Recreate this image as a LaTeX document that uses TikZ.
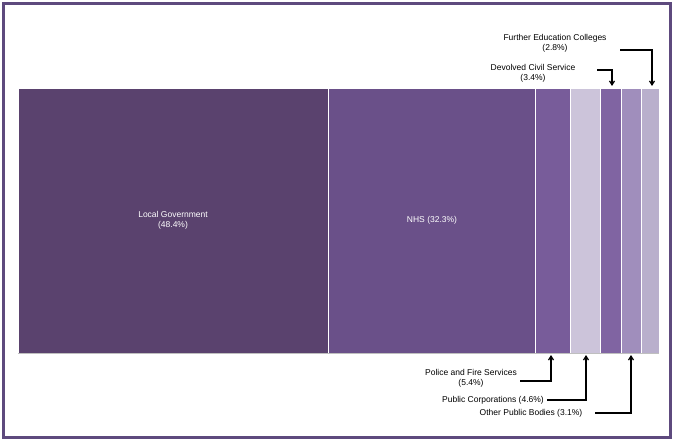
\documentclass[tikz,border=0pt]{standalone}
\usepackage{fontspec}
\setmainfont{Liberation Sans}
\usetikzlibrary{arrows.meta,positioning}
\definecolor{frame}{HTML}{5E4A7E}
\definecolor{cLG}{HTML}{5A426E}
\definecolor{cNHS}{HTML}{6A5089}
\definecolor{cPF}{HTML}{785C9A}
\definecolor{cPC}{HTML}{CCC4DA}
\definecolor{cDC}{HTML}{8064A2}
\definecolor{cOP}{HTML}{A08EBC}
\definecolor{cFE}{HTML}{B9AFCC}
\tikzset{
  seg/.style={draw=white, line width=0.6pt},
  lab/.style={font=\fontsize{8.5}{10}\selectfont, align=center, inner sep=1pt},
  call/.style={line width=1.2pt, -{Straight Barb[length=4pt,width=5pt]}}
}
\begin{document}
\begin{tikzpicture}[x=1pt, y=-1pt]
  \useasboundingbox (0,0) rectangle (675,441);
  \draw[frame, line width=3pt] (3.5,3.5) rectangle (670,437);
  % bar segments
  \foreach \a/\b/\c in {18/328/cLG,328/535/cNHS,535/570/cPF,570/600/cPC,600/621/cDC,621/641/cOP,641/659/cFE}{
    \fill[\c, seg] (\a,88) rectangle (\b,353);
  }
  \draw[gray!50, line width=1pt] (18,353.5) -- (659,353.5);
  \node[lab, text=white] (lg) at (173,220) {Local Government\\(48.4\%)};
  \node[lab, text=white] (nhs) at (432,220) {NHS (32.3\%)};
  % bottom labels
  \node[lab] (pf) at (471,378) {Police and Fire Services\\(5.4\%)};
  \node[lab] (pc) at (493,400) {Public Corporations (4.6\%)};
  \node[lab] (op) at (531,413) {Other Public Bodies (3.1\%)};
  \coordinate (pfT) at (551,355);
  \coordinate (pcT) at (586,355);
  \coordinate (opT) at (631,355);
  \draw[call] ([xshift=2pt]pf.east |- 0,381) -| (pfT);
  \draw[call] ([xshift=2pt]pc.east) -| (pcT);
  \draw[call] ([xshift=12pt]op.east) -| (opT);
  % top labels
  \node[lab] (fe) at (555,43) {Further Education Colleges\\(2.8\%)};
  \node[lab] (dc) at (533,73) {Devolved Civil Service\\(3.4\%)};
  \coordinate (feT) at (652,86);
  \coordinate (dcT) at (612,86);
  \draw[call] (620,50) -| (feT);
  \draw[call] (597,70) -| (dcT);
\end{tikzpicture}
\end{document}
